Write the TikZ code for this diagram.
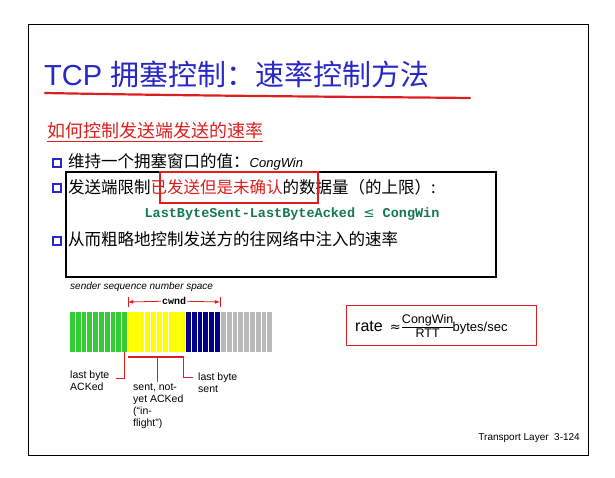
\documentclass[tikz,border=0pt]{standalone}
\usepackage{fontspec}
\setmainfont{Liberation Sans}
\newfontfamily\cjk{Noto Sans CJK SC}
\newfontfamily\djvu{DejaVu Sans}
\newfontfamily\mymono{Liberation Mono}
\definecolor{tblue}{RGB}{40,40,200}
\definecolor{tred}{RGB}{220,30,30}
\definecolor{tgreen}{RGB}{20,120,80}
\definecolor{bgreen}{RGB}{50,205,50}
\definecolor{byellow}{RGB}{255,255,0}
\definecolor{bblue}{RGB}{0,0,140}
\definecolor{bgray}{RGB}{185,185,185}
\tikzset{
  txt/.style={inner sep=0pt,anchor=west},
  bul/.style={draw=tblue,fill=white,line width=1.1pt,minimum size=8pt,inner sep=0pt},
  lbl/.style={inner sep=0pt,anchor=north west,align=left,font=\fontsize{10.5}{12}\selectfont},
  redl/.style={draw=tred,line width=0.8pt}
}
\begin{document}
\begin{tikzpicture}[x=1pt,y=-1pt]
\useasboundingbox (0,0) rectangle (615,478);
\draw[line width=1pt] (28,25) rectangle (588,455);
\node[txt,text=tblue,font=\fontsize{29}{32}\selectfont] (title) at (44,74) {TCP {\cjk 拥塞控制：速率控制方法}};
\draw[tred,line width=2.2pt,line cap=round] (45,93) .. controls (200,96) and (380,97) .. (470,98);
\node[txt,text=tred,font=\cjk\fontsize{18}{20}\selectfont] (sub) at (47,132) {\underline{如何控制发送端发送的速率}};
\node[bul] (b1) at (57,163) {};
\node[bul] (b2) at (57,188) {};
\node[bul] (b3) at (57,241) {};
\node[txt,font=\fontsize{16.5}{18}\selectfont] (t1) at (68,162) {{\cjk 维持一个拥塞窗口的值：}{\fontsize{13}{15}\selectfont\itshape CongWin}};
\node[txt,font=\cjk\fontsize{16.5}{18}\selectfont] (t2) at (68,187) {发送端限制{\color{tred}已发送但是未确认}的数据量（的上限）:};
\node[inner sep=0pt,text=tgreen,font=\mymono\bfseries\fontsize{13.5}{15}\selectfont] (f) at (292,214) {LastByteSent-LastByteAcked {\djvu\mdseries ≤} CongWin};
\node[txt,font=\cjk\fontsize{16.5}{18}\selectfont] (t3) at (68,239) {从而粗略地控制发送方的往网络中注入的速率};
\draw[line width=1.3pt] (66,172) rectangle (496,277);
\draw[tred,line width=1.2pt] (160,172) rectangle (318,203);
% sequence space
\node[lbl,font=\itshape\fontsize{10}{12}\selectfont] (seq) at (70,282) {sender sequence number space};
\foreach \i in {0,...,9} \fill[bgreen] (70+\i*5.8,312) rectangle +(4.8,40);
\foreach \i in {0,...,9} \fill[byellow] (128+\i*5.8,312) rectangle +(4.8,40);
\foreach \i in {0,...,5} \fill[bblue] (186+\i*5.8,312) rectangle +(4.8,40);
\foreach \i in {0,...,8} \fill[bgray] (221+\i*5.8,312) rectangle +(4.8,40);
\coordinate (cl) at (128,302);
\coordinate (cr) at (220,302);
\node[inner sep=1pt,fill=white,font=\mymono\bfseries\fontsize{10}{12}\selectfont] (cw) at (174,301) {cwnd};
\draw[redl,-latex] (cw) -- (cl);
\draw[redl,-latex] (cw) -- (cr);
\draw[redl] (128,297) -- (128,307);
\draw[redl] (220,297) -- (220,307);
\draw[tred,line width=1.5pt] (128,357) -- (184,357);
\node[lbl] (lba) at (70,371) {last byte\\ACKed};
\node[lbl] (snt) at (133,384) {sent, not-\\yet ACKed\\(``in-\\flight'')};
\node[lbl] (lbs) at (198,373) {last byte\\sent};
\draw[redl] (124,352) -- (124,378) -- (116,378);
\draw[redl] (157,357) -- (157,382);
\draw[redl] (183,357) -- (183,377) -- (193,377);
% rate box
\draw[tred,line width=0.8pt] (346,305) rectangle (536,345);
\node[txt,font=\fontsize{16}{18}\selectfont] (rate) at (355,326) {rate \,{\djvu\fontsize{13}{15}\selectfont ≈}$\frac{\mbox{\fontsize{12.5}{14}\selectfont CongWin}}{\mbox{\fontsize{12.5}{14}\selectfont RTT}}$\hspace{-2pt}{\fontsize{13}{15}\selectfont bytes/sec}};
\node[anchor=east,inner sep=0pt,font=\fontsize{10}{12}\selectfont] (foot) at (580,438) {Transport Layer\ \ 3-124};
\end{tikzpicture}
\end{document}
